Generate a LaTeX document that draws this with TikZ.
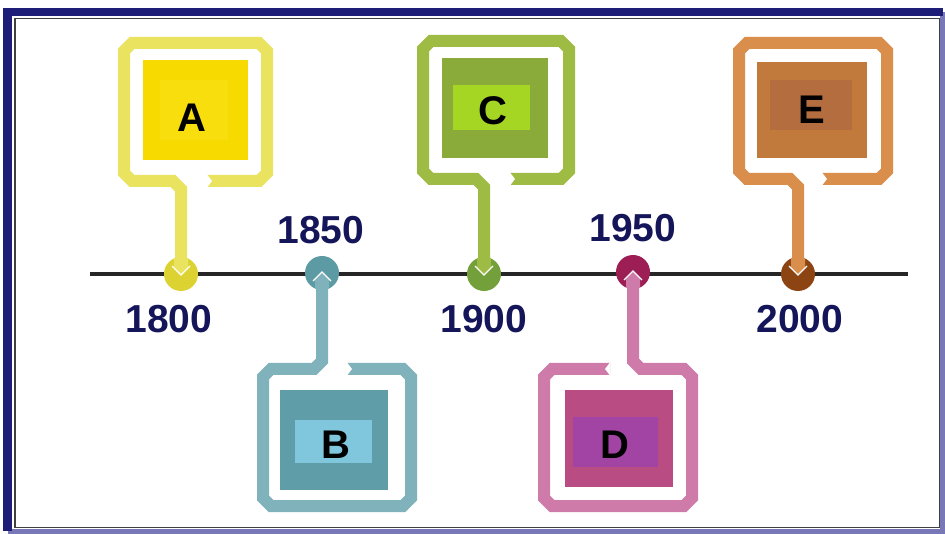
\documentclass[tikz,border=0pt]{standalone}
\usepackage{fontspec}
\setmainfont{Liberation Sans}
\definecolor{navy}{HTML}{15155A}
\definecolor{bandA}{HTML}{1E1E78}
\definecolor{bandB}{HTML}{7878B8}
\definecolor{fA}{HTML}{E9E35F}\definecolor{iA}{HTML}{F7DA00}\definecolor{lA}{HTML}{F8DE0C}\definecolor{cA}{HTML}{DCD232}
\definecolor{fB}{HTML}{7FB2BA}\definecolor{iB}{HTML}{5F9EA8}\definecolor{lB}{HTML}{80C6DC}\definecolor{cB}{HTML}{5C9AA4}
\definecolor{fC}{HTML}{9EBB44}\definecolor{iC}{HTML}{8AAB3A}\definecolor{lC}{HTML}{A6D624}\definecolor{cC}{HTML}{73A03A}
\definecolor{fD}{HTML}{CE7BAA}\definecolor{iD}{HTML}{BA4C84}\definecolor{lD}{HTML}{A244A4}\definecolor{cD}{HTML}{9C1E55}
\definecolor{fE}{HTML}{D98E4C}\definecolor{iE}{HTML}{C27A3C}\definecolor{lE}{HTML}{B36D3F}\definecolor{cE}{HTML}{8C4412}
\tikzset{
  frm/.style={draw=#1, line width=12pt, line join=miter, line cap=butt},
  dot/.style={circle, fill=#1, minimum size=34pt, inner sep=0pt},
  year/.style={text=navy, font=\fontsize{39}{39}\selectfont\bfseries, inner sep=0pt},
  letter/.style={text=black, font=\fontsize{40}{40}\selectfont\bfseries, inner sep=0pt},
  panel/.style={fill=#1, draw=none},
}
% box above the line: colour, L, R, T, B, S, G, yc
\newcommand\upframe[8]{%
  \draw[frm=#1] (#6,{#8-15}) -- (#6,{#5+8}) -- ({#6-8},#5) -- ({#2+8},#5) -- (#2,{#5-8}) -- (#2,{#4+8}) -- ({#2+8},#4) -- ({#3-8},#4) -- (#3,{#4+8}) -- (#3,{#5-8}) -- ({#3-8},#5) -- (#7,#5);
  \fill[white] (#7,{#5-6.5}) -- ({#7+5},#5) -- (#7,{#5+6.5}) -- cycle;
  \fill[#1] ({#6-7},{#8-16}) -- ({#6+7},{#8-16}) -- ({#6+7},{#8-6}) -- (#6,{#8+1}) -- ({#6-7},{#8-6}) -- cycle;
  \draw[white, line width=1.3pt] ({#6-9},{#8-8}) -- (#6,{#8+1}) -- ({#6+9},{#8-8});
}
% box below the line, stem joins left part: colour, L, R, T, B, S, G, yc
\newcommand\downframeL[8]{%
  \draw[frm=#1] (#6,{#8+15}) -- (#6,{#4-8}) -- ({#6-8},#4) -- ({#2+8},#4) -- (#2,{#4+8}) -- (#2,{#5-8}) -- ({#2+8},#5) -- ({#3-8},#5) -- (#3,{#5-8}) -- (#3,{#4+8}) -- ({#3-8},#4) -- (#7,#4);
  \fill[white] (#7,{#4-6.5}) -- ({#7+5},#4) -- (#7,{#4+6.5}) -- cycle;
  \fill[#1] ({#6-7},{#8+16}) -- ({#6+7},{#8+16}) -- ({#6+7},{#8+6}) -- (#6,{#8-1}) -- ({#6-7},{#8+6}) -- cycle;
  \draw[white, line width=1.3pt] ({#6-9},{#8+8}) -- (#6,{#8-1}) -- ({#6+9},{#8+8});
}
% box below the line, stem joins right part
\newcommand\downframeR[8]{%
  \draw[frm=#1] (#6,{#8+15}) -- (#6,{#4-8}) -- ({#6+8},#4) -- ({#3-8},#4) -- (#3,{#4+8}) -- (#3,{#5-8}) -- ({#3-8},#5) -- ({#2+8},#5) -- (#2,{#5-8}) -- (#2,{#4+8}) -- ({#2+8},#4) -- (#7,#4);
  \fill[white] (#7,{#4-6.5}) -- ({#7-5},#4) -- (#7,{#4+6.5}) -- cycle;
  \fill[#1] ({#6-7},{#8+16}) -- ({#6+7},{#8+16}) -- ({#6+7},{#8+6}) -- (#6,{#8-1}) -- ({#6-7},{#8+6}) -- cycle;
  \draw[white, line width=1.3pt] ({#6-9},{#8+8}) -- (#6,{#8-1}) -- ({#6+9},{#8+8});
}
\begin{document}
\begin{tikzpicture}[x=1pt, y=-1pt]
\useasboundingbox (0,0) rectangle (945,534);
\fill[white] (0,0) rectangle (945,534);
% outer frame
\draw[bandB, line width=5pt] (7.5,531) -- (942.5,531) -- (942.5,12);
\draw[bandA, line width=8.5pt] (7.5,531) -- (7.5,12) -- (942.5,12);
\draw[black!75, line width=1.3pt] (15,18.5) rectangle (939.5,527.5);
% timeline
\draw[black!85, line width=4pt] (90,274) -- (908,274);
% dots
\node[dot=cA] (dA) at (181,274) {};
\node[dot=cB] (dB) at (322,273) {};
\node[dot=cC] (dC) at (484,274) {};
\node[dot=cD] (dD) at (633,272) {};
\node[dot=cE] (dE) at (798,274) {};
% frames with stems
\upframe{fA}{124}{267}{43}{181}{181}{207}{274}
\downframeL{fB}{263}{411}{369}{506}{322}{347}{273}
\upframe{fC}{423}{569}{41}{179}{484}{510}{274}
\downframeR{fD}{544}{692}{369}{506}{633}{610}{272}
\upframe{fE}{739}{887}{43}{179}{798}{822}{274}
% panels
\fill[panel=iA] (143,60) rectangle (248,160);
\fill[panel=lA] (160,80) rectangle (228,140);
\fill[panel=iB] (280,390) rectangle (388,490);
\fill[panel=lB] (295,420) rectangle (372,463);
\fill[panel=iC] (442,58) rectangle (548,158);
\fill[panel=lC] (453,85) rectangle (530,130);
\fill[panel=iD] (565,390) rectangle (673,487);
\fill[panel=lD] (573,417) rectangle (658,467);
\fill[panel=iE] (757,62) rectangle (867,158);
\fill[panel=lE] (770,80) rectangle (852,130);
% letters
\node[letter] (A) at (192,118) {A};
\node[letter] (B) at (336,445) {B};
\node[letter] (C) at (493,111) {C};
\node[letter] (D) at (615,445) {D};
\node[letter] (E) at (812,110) {E};
% years
\node[year] (y1800) at (169,319) {1800};
\node[year] (y1850) at (321,230) {1850};
\node[year] (y1900) at (484,319) {1900};
\node[year] (y1950) at (633,228) {1950};
\node[year] (y2000) at (800,319) {2000};
\end{tikzpicture}
\end{document}
